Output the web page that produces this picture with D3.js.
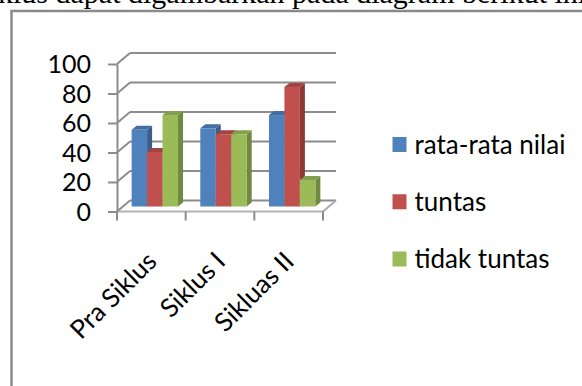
<!DOCTYPE html>
<html>
<head>
<meta charset="utf-8">
<script src="https://cdnjs.cloudflare.com/ajax/libs/d3/7.8.5/d3.min.js"></script>
<style>
  body { margin: 0; background: #fff; }
  svg { display: block; }
</style>
</head>
<body>
<svg id="chart"></svg>
<script>
// data
var categories = ["Pra Siklus", "Siklus I", "Sikluas II"];
var seriesNames = ["rata-rata nilai", "tuntas", "tidak tuntas"];
var rataRata = [52, 53, 62];
var tuntas = [37, 49, 81];
var tidakTuntas = [62, 49, 18];
var yTicks = [0, 20, 40, 60, 80, 100];
var colors = ["#4F81BD", "#C0504D", "#9BBB59"];
var topLine = "siklus dapat digambarkan pada diagram berikut ini:";

var values = [rataRata, tuntas, tidakTuntas];

var width = 582, height = 386;
var svg = d3.select("#chart")
  .attr("width", width)
  .attr("height", height);

svg.append("rect").attr("width", width).attr("height", height).attr("fill", "#fff");

// text of the page above the chart (cut by the crop)
svg.append("text")
  .attr("x", -22)
  .attr("y", 3)
  .attr("font-family", "Liberation Serif")
  .attr("font-size", 30)
  .attr("fill", "#000")
  .text(topLine);

// chart frame
svg.append("path")
  .attr("d", "M11.5," + height + "V11H" + width)
  .attr("fill", "none")
  .attr("stroke", "#8a8a8a")
  .attr("stroke-width", 2.5);

// 3d depth of the walls and of the bars
var depth = {dx: 13, dy: -11};
var plane = {dx: 3.5, dy: -5};
var barDepth = {dx: 5, dy: -4};

var x0 = d3.scaleBand()
  .domain(categories)
  .range([117, 323])
  .padding(0);

var x1 = d3.scaleBand()
  .domain(seriesNames)
  .range([0, x0.bandwidth()])
  .paddingInner(0)
  .paddingOuter(0.72);

var y = d3.scaleLinear()
  .domain([0, 100])
  .range([211.5, 64]);

var gridColor = "#8c8c8c";
var grid = svg.append("g").attr("class", "grid");

// back wall lines and side wall diagonals
yTicks.forEach(function(t) {
  grid.append("line")
    .attr("x1", x0.range()[0] + depth.dx).attr("y1", y(t) + depth.dy)
    .attr("x2", x0.range()[1] + depth.dx).attr("y2", y(t) + depth.dy)
    .attr("stroke", gridColor).attr("stroke-width", 2);
  grid.append("line")
    .attr("x1", x0.range()[0]).attr("y1", y(t))
    .attr("x2", x0.range()[0] + depth.dx).attr("y2", y(t) + depth.dy)
    .attr("stroke", gridColor).attr("stroke-width", 2);
});

// floor
grid.append("line")
  .attr("x1", x0.range()[1]).attr("y1", y(0))
  .attr("x2", x0.range()[1] + depth.dx).attr("y2", y(0) + depth.dy)
  .attr("stroke", "#a8a8a8").attr("stroke-width", 2);
grid.append("line")
  .attr("x1", x0.range()[0]).attr("y1", y(0))
  .attr("x2", x0.range()[1]).attr("y2", y(0))
  .attr("stroke", "#b4b4b4").attr("stroke-width", 2);

// y axis
var yAxis = svg.append("g")
  .attr("transform", "translate(" + x0.range()[0] + ",0)")
  .call(d3.axisLeft(y).tickValues(yTicks).tickSize(9).tickSizeOuter(0).tickPadding(17));
yAxis.select(".domain").attr("stroke", gridColor).attr("stroke-width", 2);
yAxis.selectAll(".tick line").attr("stroke", gridColor).attr("stroke-width", 2);
yAxis.selectAll(".tick text")
  .attr("font-family", "Lato")
  .attr("font-size", 25)
  .attr("fill", "#000")
  .attr("dy", "0.35em");

// category ticks at the band edges
var edges = categories.map(function(c) { return x0(c); }).concat([x0.range()[1]]);
svg.append("g").selectAll("line")
  .data(edges)
  .enter()
  .append("line")
    .attr("x1", d => d).attr("x2", d => d)
    .attr("y1", y(0)).attr("y2", y(0) + 9)
    .attr("stroke", gridColor).attr("stroke-width", 2);

// bars, drawn left to right so each front covers the previous side
var bars = [];
categories.forEach(function(c, i) {
  seriesNames.forEach(function(s, j) {
    bars.push({cat: c, series: s, value: values[j][i], color: colors[j]});
  });
});

var barGp = svg.append("g").attr("class", "bars");
bars.forEach(function(d) {
  var xl = x0(d.cat) + x1(d.series) + plane.dx;
  var xr = xl + x1.bandwidth();
  var yt = y(d.value) + plane.dy;
  var yb = y(0) + plane.dy;
  var bx = barDepth.dx, by = barDepth.dy;
  var base = d3.color(d.color);

  barGp.append("path")
    .attr("d", "M" + xr + "," + yt + "L" + (xr + bx) + "," + (yt + by) +
               "L" + (xr + bx) + "," + (yb + by) + "L" + xr + "," + yb + "Z")
    .attr("fill", base.darker(0.9));
  barGp.append("path")
    .attr("d", "M" + xl + "," + yt + "L" + (xl + bx) + "," + (yt + by) +
               "L" + (xr + bx) + "," + (yt + by) + "L" + xr + "," + yt + "Z")
    .attr("fill", base.darker(0.45));
  barGp.append("rect")
    .attr("x", xl).attr("y", yt)
    .attr("width", x1.bandwidth())
    .attr("height", yb - yt)
    .attr("fill", base);
});

// category labels
svg.append("g").selectAll("text")
  .data(categories)
  .enter()
  .append("text")
    .attr("transform", d => "translate(" + (x0(d) + x0.bandwidth() / 2 + 7) + ",263) rotate(-45)")
    .attr("text-anchor", "end")
    .attr("font-family", "Lato")
    .attr("font-size", 26)
    .attr("fill", "#000")
    .text(d => d);

// legend
var legendY = d3.scalePoint()
  .domain(seriesNames)
  .range([144.5, 259]);

var legend = svg.append("g").selectAll("g")
  .data(seriesNames)
  .enter()
  .append("g")
    .attr("transform", d => "translate(392.5," + legendY(d) + ")");

legend.append("rect")
  .attr("x", 0).attr("y", -7.5)
  .attr("width", 14).attr("height", 15)
  .attr("fill", (d, i) => colors[i]);

legend.append("text")
  .attr("x", 22)
  .attr("dy", "0.35em")
  .attr("font-family", "Lato")
  .attr("font-size", 26)
  .attr("fill", "#000")
  .text(d => d);
</script>
</body>
</html>
